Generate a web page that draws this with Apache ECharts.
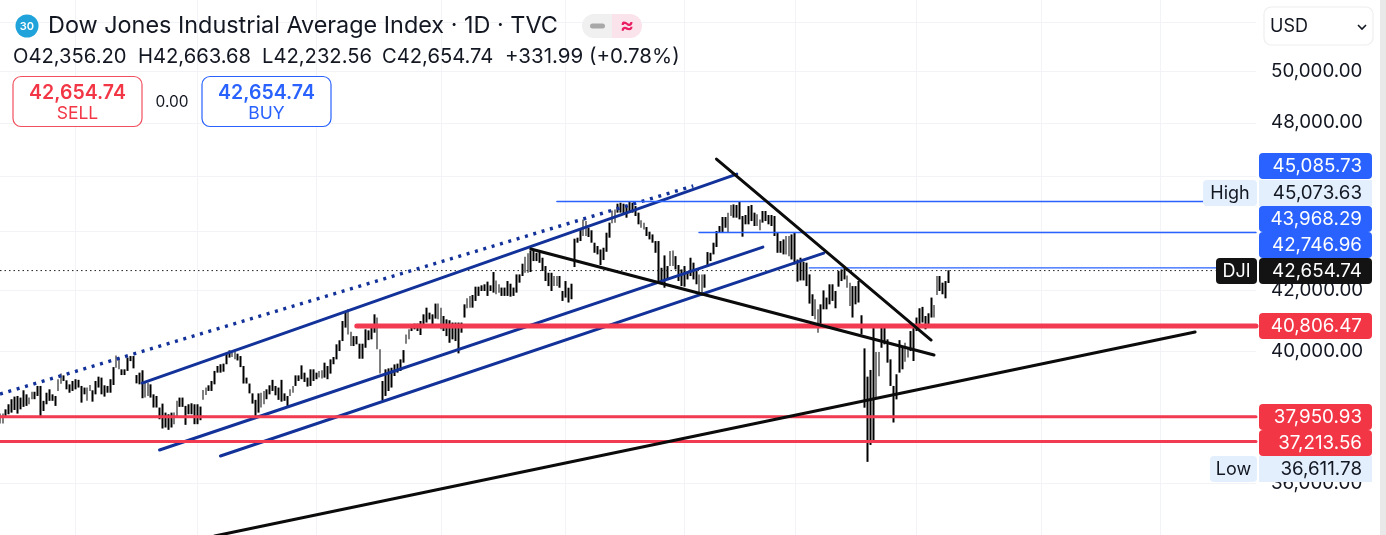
<!DOCTYPE html>
<html><head><meta charset="utf-8">
<script src="https://cdn.jsdelivr.net/npm/echarts@6/dist/echarts.min.js"></script>
<style>html,body{margin:0;padding:0;background:#fff}#c{width:1386px;height:535px}</style></head>
<body><div id="c"></div>
<script>
const highs=[38050,38050,38180,38335,38490,38570,38590,38540,38765,38640,38540,38720,38720,38900,38900,38440,38690,38795,38640,38590,39110,39285,39230,39075,38950,39055,39110,39090,38900,38850,38850,38930,38765,39055,39190,39160,38920,38900,39110,39490,39860,39790,39420,39420,39790,39840,39840,39240,39315,39390,39000,39000,38950,38640,38590,38235,38355,38080,38030,38080,38080,38440,38540,38540,38285,38335,38365,38335,38335,38265,38775,38850,38920,39055,39370,39525,39580,39600,39915,40020,39945,40055,39915,39840,39525,39160,38975,38670,38470,38670,38690,38745,38795,38920,39090,38900,38850,39090,38670,38590,38795,38900,39230,39230,39545,39315,39160,39420,39420,39315,39370,39390,39630,39525,39735,39810,40215,40345,40970,41300,41355,40620,40480,40480,40235,40235,40700,40665,40860,41190,41085,40055,39054,39420,39450,39470,39575,39600,39735,40030,40535,40700,40860,40885,40885,40972,41190,41410,41245,41190,41545,41545,41410,41135,41025,40995,40920,40920,40920,40920,41520,41720,41800,41830,42110,42110,42155,42190,42280,42155,42605,42320,42190,42080,42080,42300,42210,42080,42525,42525,42890,43130,43245,43345,43345,43265,43290,43095,42810,42580,42580,42470,42470,42470,41965,42300,42075,42210,43755,43790,44105,44435,44376,44140,44050,43615,43500,43380,43440,43965,44320,44755,44790,44995,45030,44995,44910,45055,45030,44910,44675,44400,44320,44165,44000,43905,43673,43673,42750,43175,42810,43324,43345,43150,42845,42695,42810,42639,43095,42925,42639,42525,42525,42525,43290,43265,43615,44025,44200,44520,44520,44675,44950,44970,44950,45074,44555,44590,44910,44950,44675,44615,44435,44733,44733,44590,44590,44555,43965,43673,43730,43850,43850,43905,43965,43035,43095,42955,42925,42525,41855,41690,41355,41520,41985,41745,42190,42190,41965,42639,42695,42755,42490,42245,42130,42130,42300,41160,40085,39190,39400,40775,39970,39970,40775,40775,40375,39735,38900,39265,40350,40160,40265,40105,40644,40810,41085,41390,41435,41135,41225,41745,41500,42470,42470,42245,42300,42664];
const lows=[37750,37750,37980,38030,38080,38160,38050,38180,38255,38285,38335,38490,38490,38590,37980,38130,38335,38440,38440,38285,38745,38970,39055,38795,38690,38745,38795,38850,38385,38640,38440,38745,38415,38640,38850,38640,38570,38690,38690,38930,39470,39420,39240,39240,39370,39680,39450,38980,38950,38520,38540,38590,38540,38235,38235,37880,37600,37630,37560,37630,37730,37930,38255,38255,37710,38030,38030,37730,37730,37850,38470,38620,38745,38745,38950,39315,39315,39345,39580,39790,39810,39735,39700,39490,38975,38975,38670,38355,37980,38080,38235,38335,38490,38640,38745,38610,38470,38415,38440,38285,38590,38690,38900,39055,39110,39025,38880,38900,39055,39110,39160,39130,39160,39110,39285,39580,39735,40000,40320,40755,40535,40160,40160,40215,39755,39755,40105,40350,40375,40590,40055,39285,38455,38590,38744,38850,39210,39315,39367,39630,40235,40375,40644,40700,40644,40515,40810,40920,41025,40775,41050,41025,40700,40644,40480,40265,40375,40320,39925,40590,41085,41390,41410,41410,41633,41800,41965,41965,41800,41965,41910,41855,41910,41800,41800,41800,41775,41800,41910,42245,42470,42580,42580,42605,42980,42980,42920,42639,42300,42130,41965,42130,42130,42075,41633,41745,41580,41690,42775,43615,43673,43850,43850,43815,43615,43265,43210,42845,43015,43300,43790,44295,44320,44675,44675,44615,44495,44675,44675,44555,44260,44140,44080,43850,43730,43615,43265,42245,42245,42075,42355,42810,42810,42695,42300,42130,42110,42355,42470,42355,42190,41855,41800,42075,42845,42980,43210,43465,43965,43965,44140,43965,44555,44495,44495,44435,43825,44260,44260,44376,44200,44200,44050,44320,44376,44260,44200,43850,43265,43265,43210,43210,43150,43035,42865,42280,42320,42320,42130,41545,41135,41025,40590,40810,41355,41355,41520,41633,41390,42110,42300,42355,42075,41465,41085,41520,41580,40535,38230,36612,37110,37210,38540,39200,40105,40215,39630,38900,37780,38485,39315,39420,39660,39790,40000,39682,40644,40860,40920,40700,40755,41085,41085,41830,41965,41855,41720,42233];
const totalSlots=434;
const verticalGridSlots=[26,68,109,152,195,236,274,316,359,400];
const tickValues=[52000,50000,48000,46000,44000,42000,40000,38000,36000];
const tickLabels=[50000,48000,42000,40000,36000];
const dottedTrend=[[0,38649],[239,45636]];
const channelTop=[[49,38990],[254,46072]];
const channelMid=[[55,36959],[263,43464]];
const channelLow=[[76,36782],[284,43256]];
const neckline=[[183,43395],[322,39872]];
const fallingLine=[[247,46629],[321,40353]];
const risingLine=[[74,34506],[412,40612]];
const redThick=[[123,40806.47],[433,40806.47]];
const redOne=[[0,37950.93],[433,37950.93]];
const redTwo=[[0,37213.56],[433,37213.56]];
const highLine=[[192,45073.63],[415,45073.63]];
const blueOne=[[241,43968.29],[433,43968.29]];
const blueTwo=[[279,42746.96],[433,42746.96]];
const lastLine=[[0,42654.74],[419,42654.74]];
const tags=[['45,085.73',153,'#2962FF','#fff'],['45,073.63',180,'#E3EFFD','#131722'],['43,968.29',206,'#2962FF','#fff'],['42,746.96',232,'#2962FF','#fff'],['42,654.74',258,'#131313','#fff'],['40,806.47',313,'#F23645','#fff'],['37,950.93',404,'#F23645','#fff'],['37,213.56',430,'#F23645','#fff'],['36,611.78',456,'#E3EFFD','#131722']];
const sideTags=[['High',1203,180,'#E3EFFD','#131722'],['DJI',1216,258,'#131313','#fff'],['Low',1210,456,'#E3EFFD','#131722']];
const ohlc=[['O42,356.20',13,20.2],['H42,663.68',138,20.2],['L42,232.56',262,20.2],['C42,654.74',382,20.2],['+331.99 (+0.78%)',505,20.5]];

const FF='Inter,Roboto,sans-serif';
const cats=Array.from({length:totalSlots},(_,i)=>String(i));
const bars=highs.map((h,i)=>[lows[i],h,lows[i],h]);
const vset=new Set(verticalGridSlots);
const mkLine=(data,color,width,type)=>({type:'line',data,symbol:'none',silent:true,animation:false,z:5,
  lineStyle:{color,width,type:type||'solid',cap:type?'butt':'round'}});
const txt=(text,x,y,size,fill,extra)=>({type:'text',z:50,style:Object.assign({text,x,y,font:`${(extra&&extra.weight)||400} ${size}px ${FF}`,fill,textAlign:(extra&&extra.align)||'left',textVerticalAlign:'middle'})});
const rect=(x,y,w,h,fill,r,stroke)=>({type:'rect',z:49,shape:{x,y,width:w,height:h,r:r||0},style:{fill:fill||'transparent',stroke:stroke||null,lineWidth:stroke?1.2:0}});
const gfx=[];
gfx.push(rect(1380,0,6,535,'#E9E9E9'));
gfx.push({type:'circle',z:49,shape:{cx:27,cy:26,r:11.5},style:{fill:'#1FA3DA'}});
gfx.push(txt('30',27,26.5,11,'#fff',{align:'center',weight:600}));
gfx.push(txt('Dow Jones Industrial Average Index · 1D · TVC',48,26,23.4,'#131722'));
gfx.push(rect(582,14,30,24,'#F0F0F0',[12,0,0,12]),rect(612,14,30,24,'#FBE3EC',[0,12,12,0]));
gfx.push(rect(590,23.5,15,5,'#A8A8A8',2.5));
gfx.push(txt('≈',627,25.5,21,'#E91E63',{align:'center',weight:600}));
ohlc.forEach(([t,x,s])=>gfx.push(txt(t,x,57,s,'#131722')));
gfx.push(rect(13,76.5,129,50,'#fff',8,'#F2505F'),rect(202,76.5,129,50,'#fff',8,'#2962FF'));
gfx.push(txt('42,654.74',77.5,93,19.5,'#F23645',{align:'center',weight:600}),txt('SELL',77.5,114,17.5,'#F23645',{align:'center'}));
gfx.push(txt('42,654.74',266.5,93,19.5,'#2962FF',{align:'center',weight:600}),txt('BUY',266.5,114,17.5,'#2962FF',{align:'center'}));
gfx.push(txt('0.00',172,102,15.5,'#131722',{align:'center'}));
gfx.push(rect(1264,7,109,38,'#fff',7,'#EEEEEE'));
gfx.push(txt('USD',1270,27,18,'#131722'));
gfx.push({type:'polyline',z:50,shape:{points:[[1358,25],[1362,29],[1366,25]]},style:{stroke:'#131722',lineWidth:1.6,fill:null}});
tags.forEach(([t,y,bg,fg])=>{gfx.push(rect(1259,y,113,26,bg,bg==='#E3EFFD'?0:4));gfx.push(txt(t,1362,y+13.5,18.8,fg,{align:'right'}));});
sideTags.forEach(([t,x,y,bg,fg])=>{gfx.push(rect(x,y,1257-x,26,bg,4));gfx.push(txt(t,(x+1257)/2,y+13.5,18,fg,{align:'center'}));});

const chart=echarts.init(document.getElementById('c'),null,{renderer:'canvas'});
chart.setOption({animation:false,backgroundColor:'#fff',
 grid:{left:0,top:0,width:1256,height:535,containLabel:false},
 xAxis:{type:'category',data:cats,boundaryGap:false,axisLine:{show:false},axisTick:{show:false},axisLabel:{show:false},
   splitLine:{show:true,interval:(i)=>vset.has(i),lineStyle:{color:'#F1F3F7',width:1}}},
 yAxis:{type:'log',logBase:10,position:'right',min:34534,max:52945,axisLine:{show:false},
   axisTick:{show:false,customValues:tickValues},minorTick:{show:false},
   splitLine:{show:true,lineStyle:{color:'#F1F3F7',width:1}},
   axisLabel:{show:true,customValues:tickLabels,margin:15,color:'#131722',fontFamily:FF,fontSize:18.8,
     formatter:v=>Number(v).toLocaleString('en-US',{minimumFractionDigits:2,maximumFractionDigits:2})}},
 series:[
  {type:'candlestick',data:bars,barWidth:2.3,silent:true,z:3,clip:true,progressive:0,large:false,
   itemStyle:{color:'#000',color0:'#000',borderColor:'#000',borderColor0:'#000',borderWidth:0}},
  mkLine(lastLine,'#222',1,[1.5,3]),
  mkLine(dottedTrend,'#12329A',3.4,[3,5.7]),
  mkLine(channelTop,'#12329A',3),mkLine(channelMid,'#12329A',3),mkLine(channelLow,'#12329A',3),
  mkLine(redThick,'#F23B50',5),mkLine(redOne,'#F23B50',3),mkLine(redTwo,'#F23B50',3),
  mkLine(highLine,'#2962FF',1.5),mkLine(blueOne,'#2962FF',1.5),mkLine(blueTwo,'#2962FF',1.4),
  mkLine(neckline,'#0B0B0B',3),mkLine(fallingLine,'#0B0B0B',3),mkLine(risingLine,'#0B0B0B',3)
 ],
 graphic:{elements:gfx}
});
</script></body></html>
